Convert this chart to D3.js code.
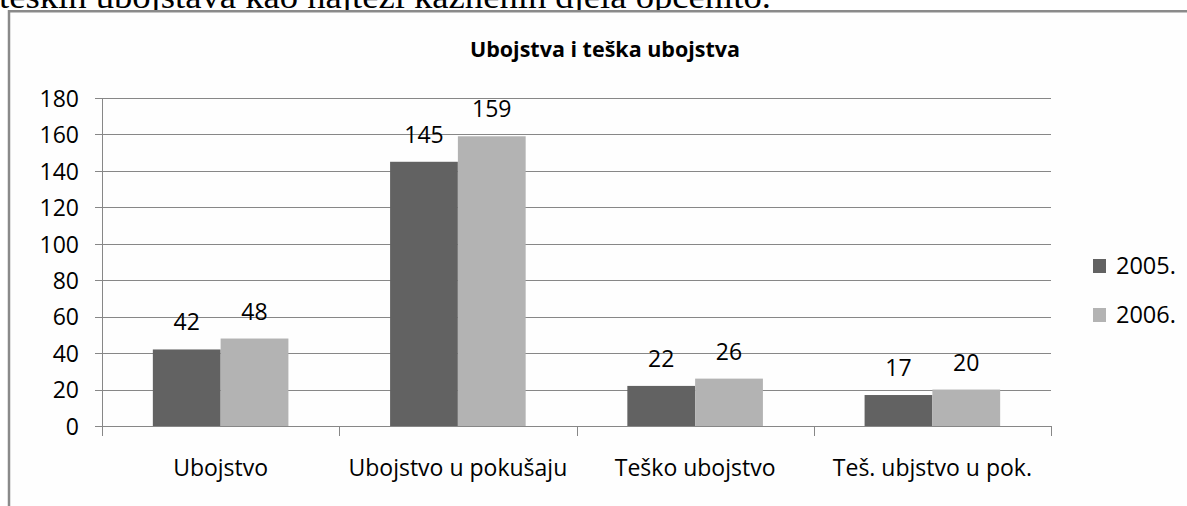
<!DOCTYPE html>
<html>
<head>
<meta charset="utf-8">
<script src="https://cdn.jsdelivr.net/npm/d3@7"></script>
<style>
  html, body { margin: 0; padding: 0; background: #fff; }
  svg { display: block; }
</style>
</head>
<body>
<svg id="chart" width="1187" height="506"></svg>
<script>
// ---- data ----
const categories = ["Ubojstvo", "Ubojstvo u pokušaju", "Teško ubojstvo", "Teš. ubjstvo u pok."];
const seriesNames = ["2005.", "2006."];
const values2005 = [42, 145, 22, 17];
const values2006 = [48, 159, 26, 20];
const yTicks = [0, 20, 40, 60, 80, 100, 120, 140, 160, 180];
const titleText = "Ubojstva i teška ubojstva";
const topText = "teških ubojstava kao najteži kaznenih djela općenito.";

const seriesValues = [values2005, values2006];
const colors = ["#626262", "#b3b3b3"];

const svg = d3.select("#chart");
const FONT = "'Open Sans', 'DejaVu Sans', sans-serif";

// surrounding document text (clipped at top, as in the source page)
svg.append("text")
  .attr("x", -1).attr("y", 8)
  .attr("font-family", "'Liberation Serif', 'Times New Roman', serif")
  .attr("font-size", 33)
  .attr("textLength", 772)
  .attr("lengthAdjust", "spacingAndGlyphs")
  .attr("fill", "#000")
  .text(topText);

// chart frame
svg.append("rect")
  .attr("x", 9).attr("y", 11.25)
  .attr("width", 1400).attr("height", 700)
  .attr("fill", "#fefefe")
  .attr("stroke", "#8a8a8a")
  .attr("stroke-width", 2.5);

// scales
const x = d3.scaleBand().domain(categories).range([102, 1051]).paddingInner(0).paddingOuter(0);
const xs = d3.scaleBand().domain(seriesNames).range([0, x.bandwidth()]).paddingInner(0).paddingOuter(0.75);
const y = d3.scaleLinear().domain([0, 180]).range([426, 98]);

const gridColor = "#878787";

// gridlines
svg.append("g").selectAll("line.grid").data(yTicks).join("line")
  .attr("class", "grid")
  .attr("x1", 95).attr("x2", 1051)
  .attr("y1", d => Math.round(y(d)) + 0.5).attr("y2", d => Math.round(y(d)) + 0.5)
  .attr("stroke", gridColor).attr("stroke-width", 1);

// y tick labels
const yAxis = d3.axisLeft(y).tickValues(yTicks).tickSize(0).tickPadding(0).tickFormat(d3.format("d"));
const ga = svg.append("g").attr("transform", "translate(79,0)").call(yAxis);
ga.select(".domain").remove();
ga.selectAll("text")
  .attr("font-family", FONT).attr("font-size", 23).attr("fill", "#000")
  .attr("dy", "0.36em");

// y axis line
svg.append("line")
  .attr("x1", 102.5).attr("x2", 102.5).attr("y1", y(180)).attr("y2", 436)
  .attr("stroke", gridColor).attr("stroke-width", 1);

// category ticks
const bounds = categories.map(c => x(c)).concat([x.range()[1]]);
svg.selectAll("line.ctick").data(bounds.slice(1)).join("line")
  .attr("class", "ctick")
  .attr("x1", d => Math.round(d) + 0.5).attr("x2", d => Math.round(d) + 0.5)
  .attr("y1", 426).attr("y2", 436)
  .attr("stroke", gridColor).attr("stroke-width", 1);

// bars
const groups = svg.selectAll("g.cat").data(categories).join("g")
  .attr("class", "cat")
  .attr("transform", c => `translate(${x(c)},0)`);

seriesNames.forEach((s, si) => {
  groups.append("rect")
    .attr("x", xs(s))
    .attr("y", (c, ci) => y(seriesValues[si][ci]))
    .attr("width", xs.bandwidth())
    .attr("height", (c, ci) => y(0) - y(seriesValues[si][ci]))
    .attr("fill", colors[si]);
  groups.append("text")
    .attr("x", xs(s) + xs.bandwidth() / 2)
    .attr("y", (c, ci) => y(seriesValues[si][ci]) - 19)
    .attr("text-anchor", "middle")
    .attr("font-family", FONT).attr("font-size", 23).attr("fill", "#000")
    .text((c, ci) => seriesValues[si][ci]);
});

// category labels
svg.selectAll("text.clabel").data(categories).join("text")
  .attr("class", "clabel")
  .attr("x", c => x(c) + x.bandwidth() / 2)
  .attr("y", 476)
  .attr("text-anchor", "middle")
  .attr("font-family", FONT).attr("font-size", 23).attr("fill", "#000")
  .text(c => c);

// title
svg.append("text")
  .attr("x", 605).attr("y", 57)
  .attr("text-anchor", "middle")
  .attr("font-family", FONT).attr("font-size", 21.5).attr("font-weight", "bold")
  .attr("fill", "#000")
  .text(titleText);

// legend
const leg = svg.selectAll("g.leg").data(seriesNames).join("g")
  .attr("class", "leg")
  .attr("transform", (d, i) => `translate(1093,${259 + i * 49})`);
leg.append("rect").attr("x", 0).attr("y", 0).attr("width", 13).attr("height", 14)
  .attr("fill", (d, i) => colors[i]);
leg.append("text").attr("x", 23).attr("y", 15)
  .attr("font-family", FONT).attr("font-size", 23.5).attr("fill", "#000")
  .text(d => d);
</script>
</body>
</html>
